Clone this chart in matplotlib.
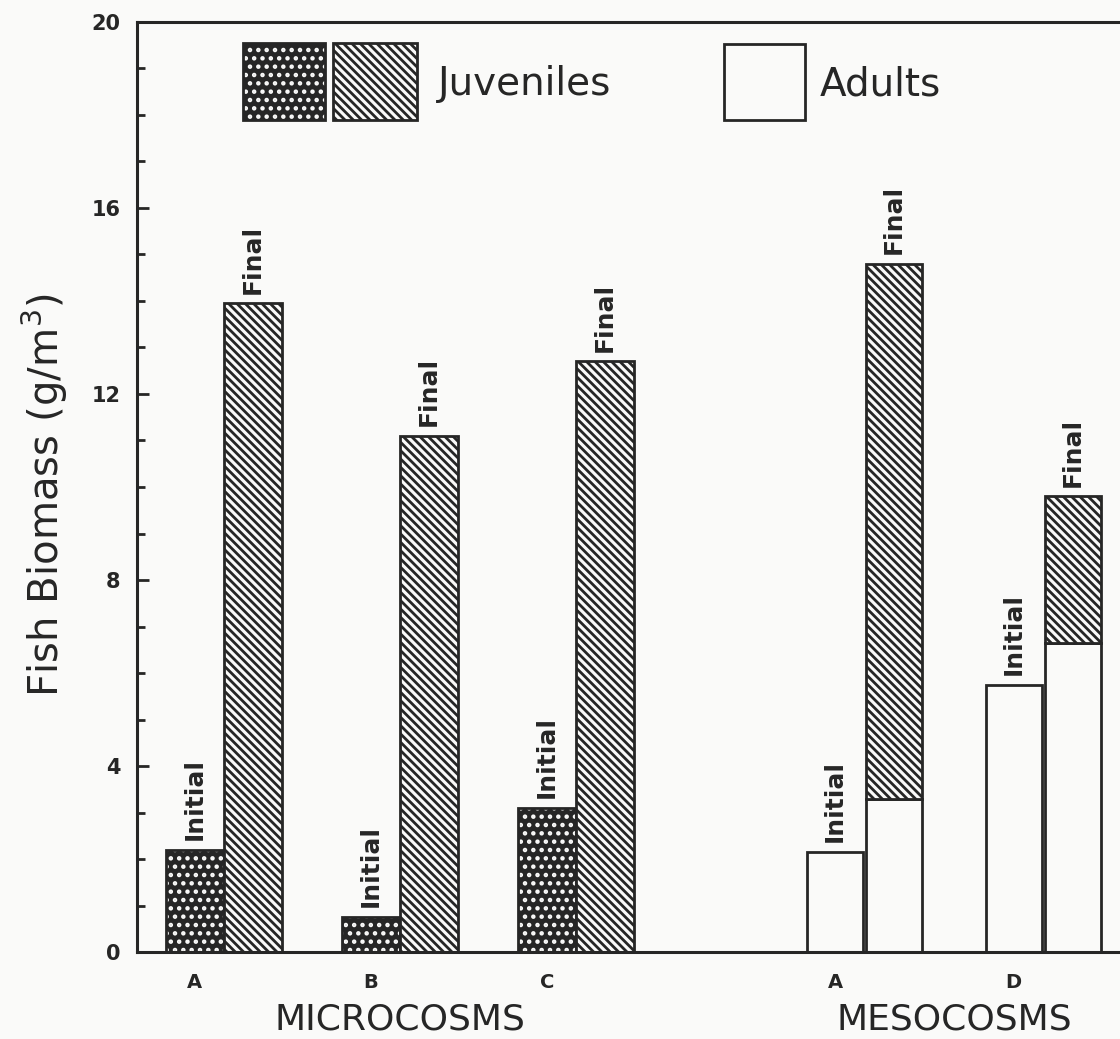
import matplotlib
matplotlib.use("Agg")
import matplotlib.pyplot as plt
from matplotlib.patches import Rectangle
from matplotlib.ticker import MultipleLocator
from matplotlib.transforms import Affine2D

INK = "#262626"
PAPER = "#fafaf9"
W, H = 1120, 1039

# fish biomass, g/m^3
groups = ["A", "B", "C", "A", "D"]
micro_initial_juv = [2.2, 0.75, 3.1]
micro_final_juv = [13.95, 11.1, 12.7]
meso_initial_adult = [2.15, 5.75]
meso_final_adult = [3.3, 6.65]
meso_final_juv = [11.5, 3.15]

STRIPE = "\\" * 4   # fine diagonal hatching
DOTS = ".."         # white stipple on dark fill

plt.rcParams.update({
    "font.family": "DejaVu Sans",
    "hatch.linewidth": 2.0,
    "axes.linewidth": 2.2,
    "text.color": INK,
    "axes.edgecolor": INK,
    "xtick.color": INK,
    "ytick.color": INK,
})

fig = plt.figure(figsize=(W / 100, H / 100), dpi=100, facecolor=PAPER)
# axes runs off the right edge of the page, like the cropped original
ax = fig.add_axes([137 / W, 87 / H, (1180 - 137) / W, 930 / H])
ax.set_facecolor(PAPER)

centers = [0.0, 1.0, 2.0, 3.64, 4.655]
w_micro = 0.33
w_meso = 0.318
gap_meso = 0.017


def stipple(x, h, w, bottom=0.0, transform=None):
    if transform is None:
        ax.bar(x, h, w, bottom=bottom, align="edge", color=INK,
               edgecolor=PAPER, hatch=DOTS, linewidth=0)
        ax.bar(x, h, w, bottom=bottom, align="edge", fill=False,
               edgecolor=INK, linewidth=2)
    else:
        fig.add_artist(Rectangle((x, bottom), w, h, facecolor=INK,
                                 edgecolor=PAPER, hatch=DOTS, linewidth=0,
                                 transform=transform))
        fig.add_artist(Rectangle((x, bottom), w, h, fill=False,
                                 edgecolor=INK, linewidth=2,
                                 transform=transform))


def stripes(x, h, w, bottom=0.0):
    ax.bar(x, h, w, bottom=bottom, align="edge", facecolor=PAPER,
           edgecolor=INK, hatch=STRIPE, linewidth=2)


def plain(x, h, w, bottom=0.0):
    ax.bar(x, h, w, bottom=bottom, align="edge", facecolor=PAPER,
           edgecolor=INK, linewidth=2)


def tag(text, x, y):
    ax.annotate(text, (x, y), xytext=(0, 7), textcoords="offset points",
                rotation=90, ha="center", va="bottom",
                fontsize=18, fontweight="bold")


tick_x = []
# microcosms: juveniles only
for c, ini, fin in zip(centers[:3], micro_initial_juv, micro_final_juv):
    stipple(c - w_micro, ini, w_micro)
    stripes(c, fin, w_micro)
    tag("Initial", c - w_micro / 2, ini)
    tag("Final", c + w_micro / 2, fin)
    tick_x.append(c - w_micro / 2)

# mesocosms: adults, with juveniles stacked on the final bar
for c, ini, fa, fj in zip(centers[3:], meso_initial_adult,
                          meso_final_adult, meso_final_juv):
    x0 = c - gap_meso / 2 - w_meso
    x1 = c + gap_meso / 2
    plain(x0, ini, w_meso)
    plain(x1, fa, w_meso)
    stripes(x1, fj, w_meso, bottom=fa)
    tag("Initial", x0 + w_meso / 2, ini)
    tag("Final", x1 + w_meso / 2, fa + fj)
    tick_x.append(x0 + w_meso / 2)

ax.set_xlim(-0.4943, 5.432)
ax.set_ylim(0, 20)
ax.spines["right"].set_visible(False)

ax.yaxis.set_major_locator(MultipleLocator(4))
ax.yaxis.set_minor_locator(MultipleLocator(1))
ax.set_yticks(range(0, 21, 4))
ax.set_yticklabels([str(v) for v in range(0, 21, 4)],
                   fontsize=15, fontweight="bold")
ax.tick_params(axis="y", which="both", direction="in", width=2, pad=12)
ax.tick_params(axis="y", which="major", length=8.5)
ax.tick_params(axis="y", which="minor", length=5.5)

ax.set_xticks(tick_x)
ax.set_xticklabels(groups, fontsize=14, fontweight="bold")
ax.tick_params(axis="x", length=0, pad=15)

xa = ax.get_xaxis_transform()
ax.text(sum(centers[:3]) / 3, -0.073, "MICROCOSMS", transform=xa,
        ha="center", va="center", fontsize=26)
ax.text(sum(centers[3:]) / 2, -0.073, "MESOCOSMS", transform=xa,
        ha="center", va="center", fontsize=26)

fig.text(45 / W, 1 - 495 / H, "Fish Biomass (g/m$^{3}$)", rotation=90,
         ha="center", va="center", fontsize=29)

# key, laid out in page pixels measured from the top-left corner
pix = Affine2D().scale(1 / W, -1 / H).translate(0, 1) + fig.transFigure
stipple(243, 77, 82, bottom=43, transform=pix)
fig.add_artist(Rectangle((333, 43), 84, 77, facecolor=PAPER, edgecolor=INK,
                         hatch=STRIPE, linewidth=2, transform=pix))
fig.add_artist(Rectangle((724, 44), 81, 76, facecolor=PAPER, edgecolor=INK,
                         linewidth=2, transform=pix))
fig.text(438, 84, "Juveniles", transform=pix, ha="left", va="center",
         fontsize=28)
fig.text(820, 84, "Adults", transform=pix, ha="left", va="center",
         fontsize=28)

fig.savefig("out.png", dpi=100, facecolor=PAPER)
